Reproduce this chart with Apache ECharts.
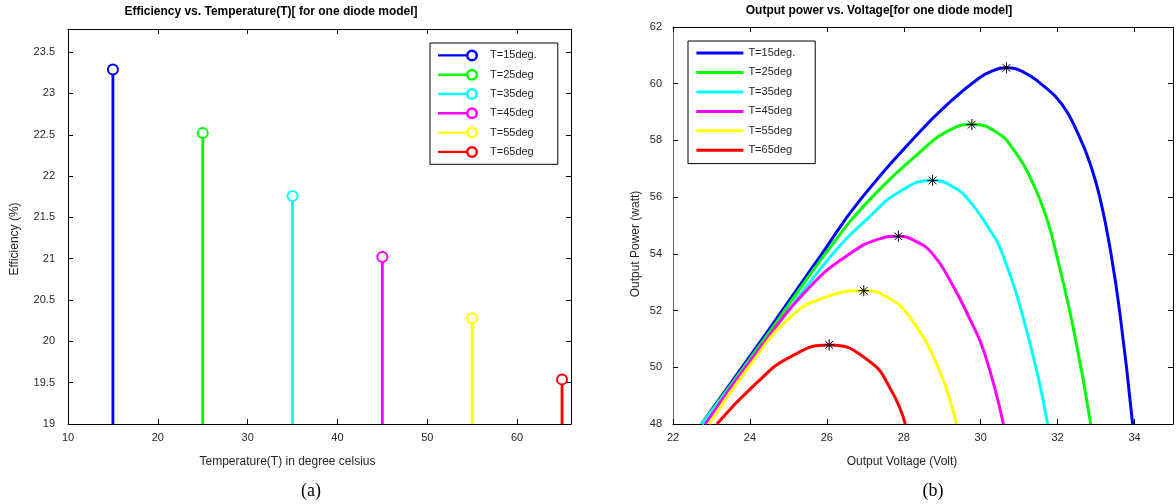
<!DOCTYPE html>
<html>
<head>
<meta charset="utf-8">
<script src="https://cdn.jsdelivr.net/npm/echarts@6/dist/echarts.min.js"></script>
<style>
  html, body { margin: 0; padding: 0; background: #fff; }
  #chart { width: 1176px; height: 504px; }
</style>
</head>
<body>
<div id="chart"></div>
<script>
// panel (a): efficiency vs temperature
const temps = [15, 25, 35, 45, 55, 65];
const efficiency = [23.29, 22.52, 21.76, 21.02, 20.28, 19.54];
const effMin = 19;

const seriesNames = ['T=15deg.', 'T=25deg', 'T=35deg', 'T=45deg', 'T=55deg', 'T=65deg'];
const palette = ['#0000ff', '#00ff00', '#00ffff', '#ff00ff', '#ffff00', '#ff0000'];

// panel (b): P-V curves, [voltage, power]
const pv15 = [[22.74, 48], [24.41, 51.17], [25.87, 54], [26.84, 55.86], [28.35, 58.21], [29.23, 59.39], [29.91, 60.15], [30.3, 60.45], [30.67, 60.56], [31.1, 60.42], [31.56, 60.0], [32.1, 59.3], [32.54, 58.21], [32.88, 57.04], [33.12, 55.86], [33.35, 54.3], [33.62, 51.9], [33.95, 48]];
const pv25 = [[22.75, 48], [24.43, 51.1], [25.96, 54], [27.08, 55.86], [28.45, 57.62], [29.1, 58.3], [29.77, 58.56], [30.4, 58.3], [30.88, 57.62], [31.37, 56.45], [31.71, 55.27], [31.95, 54.09], [32.44, 51.17], [32.86, 48]];
const pv35 = [[22.76, 48], [24.5, 51.1], [26.21, 54.09], [27.08, 55.27], [27.9, 56.2], [28.75, 56.59], [29.3, 56.35], [29.71, 55.86], [30.2, 54.92], [30.54, 54.09], [31.22, 51.17], [31.74, 48]];
const pv45 = [[22.84, 48], [24.21, 50.59], [25.62, 52.92], [26.69, 54.09], [27.3, 54.5], [27.86, 54.62], [28.3, 54.45], [28.75, 54.0], [29.25, 52.95], [29.7, 51.75], [30.1, 50.5], [30.59, 48]];
const pv55 = [[22.94, 48], [23.97, 50.01], [25.04, 51.76], [25.92, 52.45], [26.96, 52.7], [27.6, 52.45], [28.16, 51.76], [28.89, 50.01], [29.37, 48]];
const pv65 = [[23.14, 48], [24.16, 49.43], [25.04, 50.36], [26.06, 50.79], [27.08, 50.24], [27.67, 49.2], [28.04, 48]];
const pvCurves = [pv15, pv25, pv35, pv45, pv55, pv65];

const peakV = [30.67, 29.77, 28.75, 27.86, 26.96, 26.06];
const peakP = [60.56, 58.56, 56.59, 54.62, 52.7, 50.79];

const font = 'Liberation Sans, Arial, sans-serif';
const ringIcon = 'path://M0 4.8 L28 4.8 L28 7.2 L0 7.2 Z M40 6 A6 6 0 1 0 28 6 A6 6 0 1 0 40 6 Z M37.5 6 A3.5 3.5 0 1 1 30.5 6 A3.5 3.5 0 1 1 37.5 6 Z';
const starIcon = 'path://M5 0 L5 10 M0 5 L10 5 M1.5 1.5 L8.5 8.5 M8.5 1.5 L1.5 8.5';

const chart = echarts.init(document.getElementById('chart'));

function axis(extra, lineColor) {
    return Object.assign({
        type: 'value',
        splitLine: { show: false },
        axisLine: { show: true, onZero: false, lineStyle: { color: lineColor || '#000', width: 1 } },
        axisTick: { show: true, inside: true, length: 5, lineStyle: { color: '#000' } },
        axisLabel: { show: true, fontSize: 11, fontFamily: font, color: '#262626', showMaxLabel: false },
        nameTextStyle: { fontSize: 12, fontFamily: font, color: '#262626' }
    }, extra);
}
const mirror = { axisLabel: { show: false } };

const stemSeries = temps.map((t, i) => ({
    type: 'line',
    name: seriesNames[i],
    xAxisIndex: 0,
    yAxisIndex: 0,
    data: [{ value: [t, effMin], symbol: 'none' }, { value: [t, efficiency[i]] }],
    symbol: 'emptyCircle',
    symbolSize: 10,
    lineStyle: { color: palette[i], width: 2.8 },
    itemStyle: { color: palette[i], borderWidth: 3 },
    z: 3
}));

const curveSeries = pvCurves.map((d, i) => ({
    type: 'line',
    name: seriesNames[i],
    xAxisIndex: 2,
    yAxisIndex: 2,
    data: d,
    smooth: 0.5,
    showSymbol: false,
    lineStyle: { color: palette[i], width: 3 },
    itemStyle: { color: palette[i] },
    z: 3
}));

const option = {
    animation: false,
    backgroundColor: '#fff',
    title: [
        { text: 'Efficiency vs. Temperature(T)[ for one diode model]', left: 266, top: 1, textAlign: 'center',
          textStyle: { fontSize: 12, fontWeight: 'bold', fontFamily: font, color: '#000' } },
        { text: 'Output power vs. Voltage[for one diode model]', left: 874, top: 0, textAlign: 'center',
          textStyle: { fontSize: 12, fontWeight: 'bold', fontFamily: font, color: '#000' } },
        { text: '(a)', left: 306, top: 477, textAlign: 'center',
          textStyle: { fontSize: 18, fontWeight: 'normal', fontFamily: 'Liberation Serif, Times New Roman, serif', color: '#000' } },
        { text: '(b)', left: 928, top: 477, textAlign: 'center',
          textStyle: { fontSize: 18, fontWeight: 'normal', fontFamily: 'Liberation Serif, Times New Roman, serif', color: '#000' } }
    ],
    grid: [
        { left: 68, top: 29, width: 503, height: 395 },
        { left: 673, top: 27, width: 500, height: 397 }
    ],
    legend: [
        {
            orient: 'vertical', left: 430, top: 43,
            padding: [6.4, 21, 6.4, 8], itemGap: 7.3, itemWidth: 40, itemHeight: 12,
            borderColor: '#000', borderWidth: 1, backgroundColor: '#fff',
            selectedMode: false,
            itemStyle: { borderWidth: 0 },
            textStyle: { fontSize: 11, fontFamily: font, color: '#262626', lineHeight: 12, padding: [0, 0, 0, 7] },
            data: seriesNames.map((n, i) => ({ name: n, icon: ringIcon, itemStyle: { color: palette[i], borderWidth: 0 } }))
        },
        {
            orient: 'vertical', left: 688, top: 41,
            padding: [6, 20, 7.3, 8.4], itemGap: 7.46, itemWidth: 47, itemHeight: 3,
            borderColor: '#000', borderWidth: 1, backgroundColor: '#fff',
            selectedMode: false,
            itemStyle: { borderWidth: 0 },
            textStyle: { fontSize: 11, fontFamily: font, color: '#262626', lineHeight: 12 },
            data: seriesNames.map((n, i) => ({ name: n, icon: 'rect', itemStyle: { color: palette[i], borderWidth: 0 } }))
        }
    ],
    xAxis: [
        axis({ gridIndex: 0, position: 'bottom', min: 10, max: 66, interval: 10,
               name: 'Temperature(T) in degree celsius', nameLocation: 'middle', nameGap: 32,
               nameTextStyle: { fontSize: 12, fontFamily: font, color: '#262626', padding: [0, 64, 0, 0] } }),
        axis(Object.assign({ gridIndex: 0, position: 'top', min: 10, max: 66, interval: 10 }, mirror)),
        axis({ gridIndex: 1, position: 'bottom', min: 22, max: 35, interval: 2,
               name: 'Output Voltage (Volt)', nameLocation: 'middle', nameGap: 32,
               nameTextStyle: { fontSize: 12, fontFamily: font, color: '#262626', padding: [0, 42, 0, 0] } }),
        axis(Object.assign({ gridIndex: 1, position: 'top', min: 22, max: 35, interval: 2 }, mirror))
    ],
    yAxis: [
        axis({ gridIndex: 0, position: 'left', min: 19, max: 23.78, interval: 0.5,
               axisLabel: { fontSize: 11, fontFamily: font, color: '#262626', margin: 13, showMaxLabel: false },
               name: 'Efficiency (%)', nameLocation: 'middle', nameGap: 47,
               nameTextStyle: { fontSize: 12, fontFamily: font, color: '#262626', padding: [0, 25, 0, 0] } }),
        axis(Object.assign({ gridIndex: 0, position: 'right', min: 19, max: 23.78, interval: 0.5 }, mirror)),
        axis({ gridIndex: 1, position: 'left', min: 48, max: 62, interval: 2,
               axisLabel: { fontSize: 11, fontFamily: font, color: '#262626', margin: 11 },
               name: 'Output Power (watt)', nameLocation: 'middle', nameGap: 31,
               nameTextStyle: { fontSize: 12, fontFamily: font, color: '#262626', padding: [0, 37, 0, 0] } }, '#666'),
        axis(Object.assign({ gridIndex: 1, position: 'right', min: 48, max: 62, interval: 2 }, mirror))
    ],
    series: stemSeries.concat(curveSeries, [{
        type: 'scatter',
        name: 'MPP',
        xAxisIndex: 2,
        yAxisIndex: 2,
        data: peakV.map((v, i) => [v, peakP[i]]),
        symbol: starIcon,
        symbolSize: 11,
        itemStyle: { color: 'none', borderColor: '#000', borderWidth: 1, opacity: 1 },
        z: 5
    }])
};

chart.setOption(option);
</script>
</body>
</html>
